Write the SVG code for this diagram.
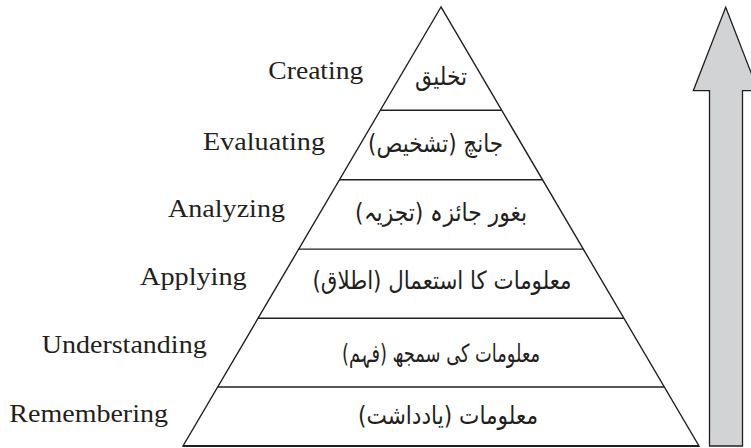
<svg xmlns="http://www.w3.org/2000/svg" width="751" height="448" viewBox="0 0 751 448">
  <style>
    .en { font-family: "Liberation Serif", "Times New Roman", serif; font-size: 25px; fill: #231f20; text-anchor: end; }
    .ur { font-family: "DejaVu Sans", "Noto Sans", sans-serif; font-size: 25px; fill: #231f20; text-anchor: middle; direction: rtl; }
    .edge { stroke: #231f20; stroke-width: 1.4; fill: none; }
  </style>
  <rect width="751" height="448" fill="#ffffff"/>
  <g id="pyramid">
    <polygon points="441,7 183,446 699,446" fill="#ffffff" stroke="#231f20" stroke-width="1.4"/>
    <line x1="183" y1="446" x2="699" y2="446" stroke="#231f20" stroke-width="2"/>
  </g>
  <g id="connectors">
    <line class="edge" x1="380.2" y1="110.3" x2="501.8" y2="110.3"/>
    <line class="edge" x1="339.3" y1="179.8" x2="542.7" y2="179.8"/>
    <line class="edge" x1="298.6" y1="249.1" x2="583.4" y2="249.1"/>
    <line class="edge" x1="258.0" y1="318.3" x2="624.0" y2="318.3"/>
    <line class="edge" x1="217.6" y1="387.0" x2="664.4" y2="387.0"/>
  </g>
  <g id="arrow">
    <polygon points="725.7,7.3 758.1,90.7 742.5,90.7 742.5,446 709.5,446 709.5,90.7 693.3,90.7" fill="#d1d3d4" stroke="#231f20" stroke-width="1.3" stroke-linejoin="miter"/>
  </g>
  <g id="level-creating">
    <text class="en" x="363.3" y="79.3" textLength="95" lengthAdjust="spacingAndGlyphs">Creating</text>
    <text class="ur" x="441" y="85" textLength="52" lengthAdjust="spacingAndGlyphs">تخلیق</text>
  </g>
  <g id="level-evaluating">
    <text class="en" x="325" y="150" textLength="122" lengthAdjust="spacingAndGlyphs">Evaluating</text>
    <text class="ur" x="435.5" y="152" textLength="135" lengthAdjust="spacingAndGlyphs">جانچ (تشخیص)</text>
  </g>
  <g id="level-analyzing">
    <text class="en" x="285" y="216.7" textLength="117" lengthAdjust="spacingAndGlyphs">Analyzing</text>
    <text class="ur" x="441" y="221" textLength="172" lengthAdjust="spacingAndGlyphs">بغور جائزہ (تجزیہ)</text>
  </g>
  <g id="level-applying">
    <text class="en" x="246.7" y="285" textLength="106.7" lengthAdjust="spacingAndGlyphs">Applying</text>
    <text class="ur" x="442" y="289" textLength="259" lengthAdjust="spacingAndGlyphs">معلومات کا استعمال (اطلاق)</text>
  </g>
  <g id="level-understanding">
    <text class="en" x="206.7" y="353.3" textLength="165" lengthAdjust="spacingAndGlyphs">Understanding</text>
    <text class="ur" x="441" y="362" textLength="198" lengthAdjust="spacingAndGlyphs">معلومات کی سمجھ (فہم)</text>
  </g>
  <g id="level-remembering">
    <text class="en" x="168" y="421.7" textLength="158.7" lengthAdjust="spacingAndGlyphs">Remembering</text>
    <text class="ur" x="448" y="424" textLength="180" lengthAdjust="spacingAndGlyphs">معلومات (یادداشت)</text>
  </g>
</svg>
